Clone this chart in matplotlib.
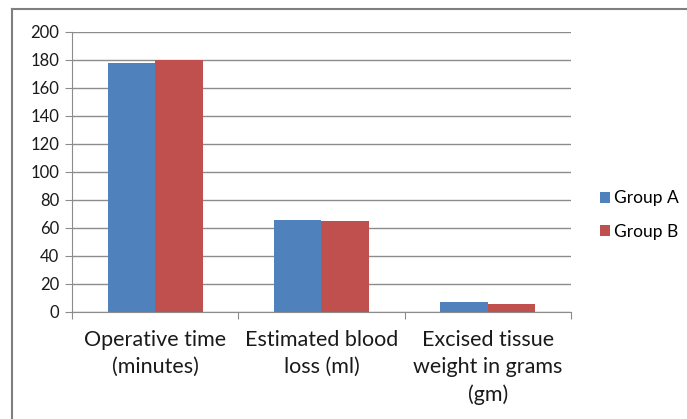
import numpy as np
import matplotlib.pyplot as plt
from matplotlib.lines import Line2D

categories = ['Operative time\n(minutes)', 'Estimated blood\nloss (ml)',
              'Excised tissue\nweight in grams\n(gm)']
group_a = [178, 65.5, 7]
group_b = [180, 64.5, 5.7]
series_names = ['Group A', 'Group B']

plt.rcParams['font.family'] = ['Lato', 'DejaVu Sans']

fig = plt.figure(figsize=(6.87, 4.19), dpi=100)
ax = fig.add_axes([0.1048, 0.256, 0.7262, 0.668])

x = np.arange(len(categories))
w = 0.285
ax.bar(x - w / 2, group_a, w, color='#4f81bd', label=series_names[0], zorder=3)
ax.bar(x + w / 2, group_b, w, color='#c0504d', label=series_names[1], zorder=3)

ax.set_xlim(-0.5, len(categories) - 0.5)
ax.set_ylim(0, 200)
ax.set_yticks(range(0, 201, 20))
ax.yaxis.grid(True, color='#8c8c8c', linewidth=1, zorder=0)

# category labels sit between the boundary ticks
ax.set_xticks(np.arange(-0.5, len(categories), 1))
ax.set_xticklabels([])
ax.set_xticks(x, minor=True)
ax.set_xticklabels(categories, minor=True, fontsize=15.5, color='#1a1a1a',
                   linespacing=1.45)
ax.tick_params(axis='x', which='minor', length=0, pad=13)
ax.tick_params(axis='x', which='major', length=5, color='#8c8c8c')
ax.tick_params(axis='y', length=5, color='#8c8c8c', labelsize=12,
               labelcolor='#1a1a1a', pad=4)

for s in ['top', 'right']:
    ax.spines[s].set_visible(False)
for s in ['left', 'bottom']:
    ax.spines[s].set_color('#8c8c8c')

ax.legend(loc='center left', bbox_to_anchor=(1.027, 0.345), frameon=False,
          fontsize=12.5, handlelength=0.6, handleheight=0.6, labelspacing=1.0,
          handletextpad=0.2)

# chart area border (top and left edges)
fig.add_artist(Line2D([11.5 / 687, 1], [1 - 9.5 / 419] * 2, color='#7f7f7f',
                      linewidth=1.5, transform=fig.transFigure))
fig.add_artist(Line2D([11.5 / 687] * 2, [0, 1 - 9.5 / 419], color='#7f7f7f',
                      linewidth=1.5, transform=fig.transFigure))

fig.savefig('out.png', dpi=100)
